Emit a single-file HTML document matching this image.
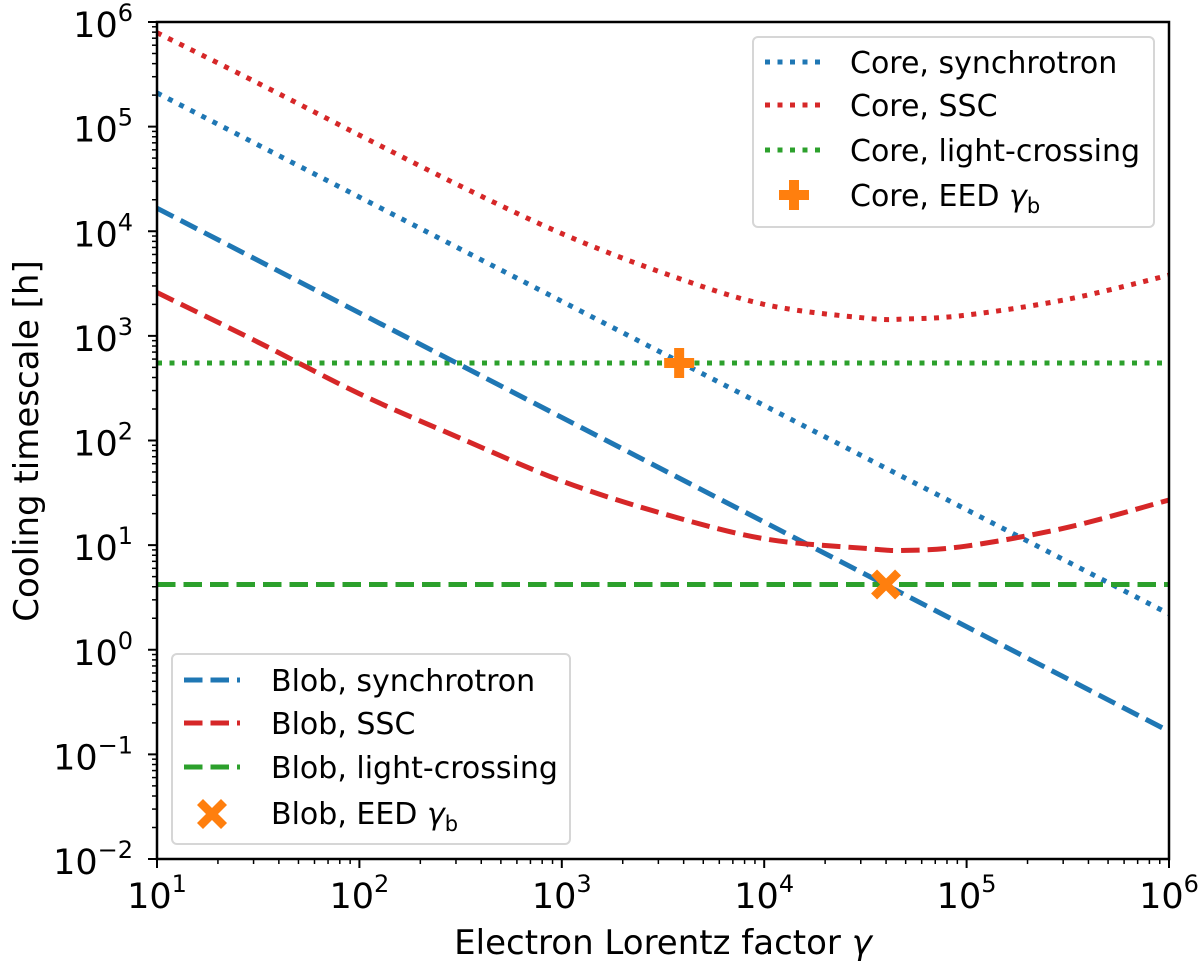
<!DOCTYPE html>
<html><head><meta charset="utf-8"><style>
html,body{margin:0;padding:0;background:#fff;}
svg{display:block;font-family:"DejaVu Sans","Liberation Sans",sans-serif;}
</style></head><body>
<svg id="chart" width="1200" height="967" viewBox="0 0 1200 967" xmlns="http://www.w3.org/2000/svg">
<g id="plot"></g>
<g id="axes"></g>
<text x="663" y="954" font-size="34" text-anchor="middle">Electron Lorentz factor <tspan font-style="italic">γ</tspan></text>
<text transform="translate(38,441) rotate(-90)" font-size="34" text-anchor="middle">Cooling timescale [h]</text>
<g>
<rect x="753" y="37" width="401" height="190" rx="5" fill="#fff" fill-opacity="0.8" stroke="#d6d6d6" stroke-width="2"/>
<line x1="765" y1="62" x2="826" y2="62" stroke="#1f77b4" stroke-width="5" stroke-dasharray="5 7.5"/>
<text x="850" y="73" font-size="30">Core, synchrotron</text>
<line x1="765" y1="105" x2="826" y2="105" stroke="#d62728" stroke-width="5" stroke-dasharray="5 7.5"/>
<text x="850" y="116" font-size="30">Core, SSC</text>
<line x1="765" y1="150" x2="826" y2="150" stroke="#2ca02c" stroke-width="5" stroke-dasharray="5 7.5"/>
<text x="850" y="161" font-size="30">Core, light-crossing</text>
<path d="M789,180h10v10h10v10h-10v10h-10v-10h-10v-10h10z" fill="#ff7f0e"/>
<text x="850" y="206" font-size="30">Core, EED <tspan font-style="italic">γ</tspan><tspan font-size="21" dy="7">b</tspan></text>
</g>
<g>
<rect x="172" y="654" width="398" height="190" rx="5" fill="#fff" fill-opacity="0.8" stroke="#d6d6d6" stroke-width="2"/>
<line x1="184" y1="680" x2="240" y2="680" stroke="#1f77b4" stroke-width="5" stroke-dasharray="18.5 8"/>
<text x="271" y="691" font-size="30">Blob, synchrotron</text>
<line x1="184" y1="723" x2="240" y2="723" stroke="#d62728" stroke-width="5" stroke-dasharray="18.5 8"/>
<text x="271" y="734" font-size="30">Blob, SSC</text>
<line x1="184" y1="767" x2="240" y2="767" stroke="#2ca02c" stroke-width="5" stroke-dasharray="18.5 8"/>
<text x="271" y="778" font-size="30">Blob, light-crossing</text>
<path d="M197,805l6,-6l9,9l9,-9l6,6l-9,9l9,9l-6,6l-9,-9l-9,9l-6,-6l9,-9z" fill="#ff7f0e"/>
<text x="271" y="824" font-size="30">Blob, EED <tspan font-style="italic">γ</tspan><tspan font-size="21" dy="7">b</tspan></text>
</g>
</svg>
<script>
const gammaGrid = [10, 31.6, 100, 316, 1000, 3162, 10000, 31623, 50119, 100000, 316228, 1000000];
const coreSSC = [7.9e5, 2.6e5, 8.3e4, 2.7e4, 9.5e3, 4.0e3, 2.0e3, 1.48e3, 1.45e3, 1.58e3, 2.24e3, 3.8e3];
const blobSSC = [2.6e3, 870, 280, 105, 41, 20, 11.5, 9.3, 8.9, 9.8, 14.8, 27];
const syncGamma = [10, 1000000];
const coreSync = [2.1e5, 2.2];
const blobSync = [1.66e4, 0.166];
const coreLight = 550;
const blobLight = 4.2;
const corePeak = [3800, 550];
const blobPeak = [40000, 4.2];
const xTicks = [1, 2, 3, 4, 5, 6];
const yTicks = [-2, -1, 0, 1, 2, 3, 4, 5, 6];

const L = 157, R = 1169, T = 22, B = 859;
const xs = g => L + (Math.log10(g) - 1) / 5 * (R - L);
const ys = v => T + (6 - Math.log10(v)) / 8 * (B - T);
const NS = 'http://www.w3.org/2000/svg';
const plot = document.getElementById('plot');
const axes = document.getElementById('axes');
function mk(tag, attrs, parent) {
  const e = document.createElementNS(NS, tag);
  for (const k in attrs) e.setAttribute(k, attrs[k]);
  parent.appendChild(e);
  return e;
}
const clip = mk('clipPath', {id: 'clp'}, plot);
mk('rect', {x: L, y: T, width: R - L, height: B - T}, clip);
const area = mk('g', {'clip-path': 'url(#clp)'}, plot);

function line(xsArr, vals, color, dash, name) {
  const d = xsArr.map((g, i) => (i ? 'L' : 'M') + xs(g).toFixed(1) + ',' + ys(vals[i]).toFixed(1)).join('');
  const p = mk('path', {d: d, fill: 'none', stroke: color, 'stroke-width': 5, 'stroke-dasharray': dash}, area);
  
  
}
function smooth(xsArr, vals, color, dash, name) {
  const pts = xsArr.map((g, i) => [xs(g), ys(vals[i])]);
  let d = 'M' + pts[0][0] + ',' + pts[0][1];
  for (let i = 0; i < pts.length - 1; i++) {
    const p0 = pts[Math.max(0, i - 1)], p1 = pts[i], p2 = pts[i + 1], p3 = pts[Math.min(pts.length - 1, i + 2)];
    const c1 = [p1[0] + (p2[0] - p0[0]) / 6, p1[1] + (p2[1] - p0[1]) / 6];
    const c2 = [p2[0] - (p3[0] - p1[0]) / 6, p2[1] - (p3[1] - p1[1]) / 6];
    d += 'C' + c1.join(',') + ' ' + c2.join(',') + ' ' + p2.join(',');
  }
  const p = mk('path', {d: d, fill: 'none', stroke: color, 'stroke-width': 5, 'stroke-dasharray': dash}, area);
  
  
}
const DOT = '5 7.5', DASH = '18.5 8';
line(syncGamma, coreSync, '#1f77b4', DOT, 'core-synchrotron-line');
smooth(gammaGrid, coreSSC, '#d62728', DOT, 'core-ssc-line');
line(syncGamma, [coreLight, coreLight], '#2ca02c', DOT, 'core-light-crossing-line');
line(syncGamma, blobSync, '#1f77b4', DASH, 'blob-synchrotron-line');
smooth(gammaGrid, blobSSC, '#d62728', DASH, 'blob-ssc-line');
line(syncGamma, [blobLight, blobLight], '#2ca02c', DASH, 'blob-light-crossing-line');

{
  const cx = xs(corePeak[0]), cy = ys(corePeak[1]);
  const m = mk('path', {d: `M${cx-5},${cy-15}h10v10h10v10h-10v10h-10v-10h-10v-10h10z`, fill: '#ff7f0e'}, plot);
  
  
  const bx = xs(blobPeak[0]), by = ys(blobPeak[1]);
  const m2 = mk('path', {d: `M${bx-15},${by-9}l6,-6l9,9l9,-9l6,6l-9,9l9,9l-6,6l-9,-9l-9,9l-6,-6l9,-9z`, fill: '#ff7f0e'}, plot);
  
  
}

const fr = mk('rect', {x: L, y: T, width: R - L, height: B - T, fill: 'none', stroke: '#000', 'stroke-width': 2.5}, axes);


xTicks.forEach(e => {
  const x = xs(Math.pow(10, e));
  mk('line', {x1: x, y1: B, x2: x, y2: B + 9, stroke: '#000', 'stroke-width': 2}, axes);
  const t = mk('text', {x: x, y: B + 49, 'font-size': 35, 'text-anchor': 'middle'}, axes);
  
  
  t.innerHTML = '10<tspan font-size="24" dy="-16">' + e + '</tspan>';
  if (e < 6) for (let k = 2; k < 10; k++) {
    const xm = xs(k * Math.pow(10, e));
    mk('line', {x1: xm, y1: B, x2: xm, y2: B + 5, stroke: '#000', 'stroke-width': 1.5}, axes);
  }
});
yTicks.forEach(e => {
  const y = ys(Math.pow(10, e));
  mk('line', {x1: L, y1: y, x2: L - 9, y2: y, stroke: '#000', 'stroke-width': 2}, axes);
  const t = mk('text', {x: 133, y: y + 15, 'font-size': 35, 'text-anchor': 'end'}, axes);
  
  
  const s = e < 0 ? '\u2212' + (-e) : '' + e;
  t.innerHTML = '10<tspan font-size="24" dy="-16">' + s + '</tspan>';
  if (e < 6) for (let k = 2; k < 10; k++) {
    const ym = ys(k * Math.pow(10, e));
    mk('line', {x1: L, y1: ym, x2: L - 5, y2: ym, stroke: '#000', 'stroke-width': 1.5}, axes);
  }
});
</script>
</body></html>
